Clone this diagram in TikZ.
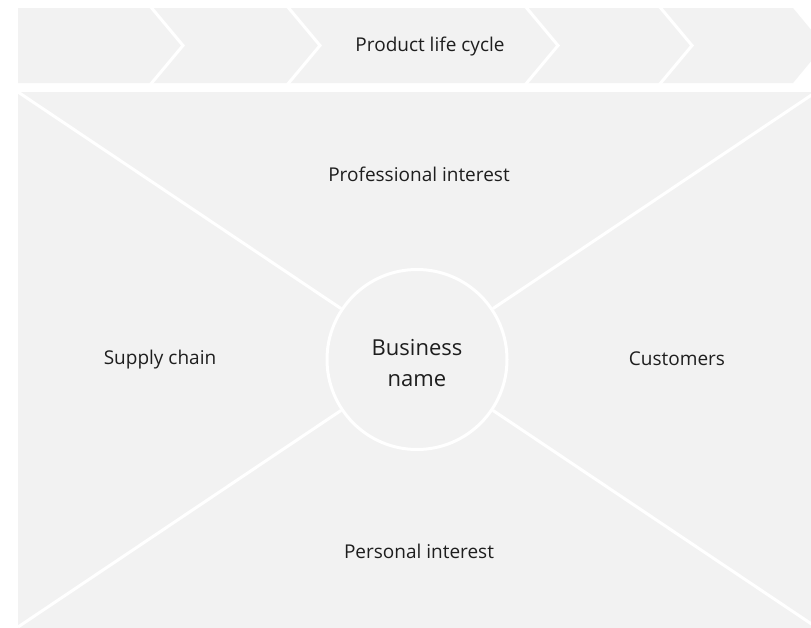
\documentclass[tikz,border=0pt]{standalone}
\usepackage{fontspec}
\setmainfont{Open Sans}
\definecolor{panel}{HTML}{F2F2F2}
\definecolor{ink}{HTML}{1E1E1E}
\tikzset{
  sep/.style={draw=white, line width=3pt, line join=miter},
  lbl/.style={font=\fontsize{19}{22}\selectfont, text=ink},
  hub/.style={circle, draw=white, line width=3pt, fill=panel, minimum size=180pt, inner sep=0pt},
  hubtext/.style={align=center, font=\fontsize{22}{31}\selectfont, text=ink}
}
\begin{document}
\begin{tikzpicture}[x=1pt,y=-1pt]
\useasboundingbox (0,0) rectangle (811,627);
\fill[white] (0,0) rectangle (811,627);
\begin{scope}
\clip (0,0) rectangle (811,627);
% top band
\fill[panel] (18,8) -- (793,8) -- (824,45.5) -- (793,83) -- (18,83) -- cycle;
\foreach \x in {150,287,525,659}{
  \draw[sep] (\x,6) -- (\x+33,45.5) -- (\x,85);
}
% main panel
\fill[panel] (18,92) rectangle (830,640);
\coordinate (tl) at (18,92);
\coordinate (tr) at (816,92);
\coordinate (bl) at (18,627);
\coordinate (br) at (816,627);
\node[hub] (hubnode) at (417,359.5) {};
\draw[sep] (tl) -- (hubnode);
\draw[sep] (tr) -- (hubnode);
\draw[sep] (bl) -- (hubnode);
\draw[sep] (br) -- (hubnode);
\end{scope}
\node[hubtext] (hubname) at (417,363) {Business\\name};
\node[lbl] (plc) at (430,46.5) {Product life cycle};
\node[lbl] (prof) at (419,174.5) {Professional interest};
\node[lbl] (supply) at (160,359.5) {Supply chain};
\node[lbl] (cust) at (677,359) {Customers};
\node[lbl] (pers) at (419,551.5) {Personal interest};
\end{tikzpicture}
\end{document}
